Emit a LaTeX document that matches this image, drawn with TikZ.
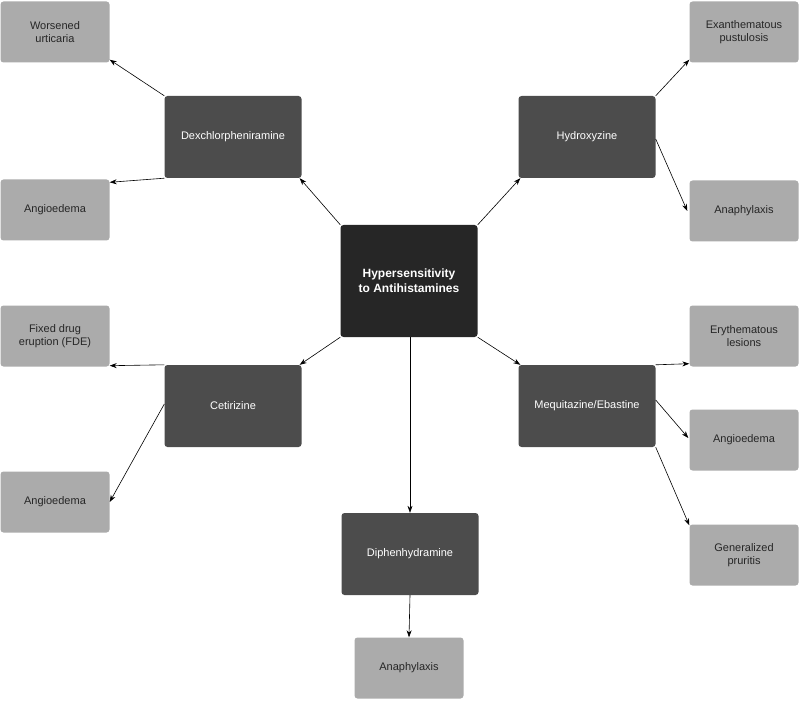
\documentclass[tikz,border=0pt]{standalone}
\usepackage{fontspec}
\setmainfont{Liberation Sans}
\usetikzlibrary{arrows.meta,calc}
\begin{document}
\begin{tikzpicture}[x=1pt,y=-1pt,
  box/.style={rounded corners=3pt,draw=none,align=center,inner sep=0pt,font=\fontsize{11}{13}\selectfont},
  mid/.style={box,fill=black!70,text=white,minimum width=137pt,minimum height=82pt},
  leaf/.style={box,fill=black!33,text=black!85,minimum width=109pt,minimum height=61pt},
  arr/.style={-{Stealth[length=7pt,width=5pt]},line width=0.6pt,black}]
\useasboundingbox (0,0) rectangle (800,703);
\node[box,fill=black!85,text=white,minimum width=137pt,minimum height=112pt,font=\bfseries\fontsize{12}{15}\selectfont] (c) at (409,281) {Hypersensitivity\\to Antihistamines};
\node[mid] (dex) at (233,137) {Dexchlorpheniramine};
\node[mid] (hyd) at (587,137) {Hydroxyzine};
\node[mid] (cet) at (233,406) {Cetirizine};
\node[mid] (meq) at (587,406) {Mequitazine/Ebastine};
\node[mid] (dip) at (410,554) {Diphenhydramine};
\node[leaf] (wu) at (55,32) {Worsened\\urticaria};
\node[leaf] (a1) at (55,210) {Angioedema};
\node[leaf] (fde) at (55,336) {Fixed drug\\eruption (FDE)};
\node[leaf] (a2) at (55,502) {Angioedema};
\node[leaf] (ex) at (744,32) {Exanthematous\\pustulosis};
\node[leaf] (an1) at (744,211) {Anaphylaxis};
\node[leaf] (er) at (744,336) {Erythematous\\lesions};
\node[leaf] (a3) at (744,440) {Angioedema};
\node[leaf] (gp) at (744,555) {Generalized\\pruritis};
\node[leaf] (an2) at (409,668) {Anaphylaxis};
% center to drugs
\draw[arr] (c.north west) -- ($(dex.south east)+(-2,0)$);
\draw[arr] (c.north east) -- ($(hyd.south west)+(2,0)$);
\draw[arr] (c.south west) -- ($(cet.north east)+(-2,0)$);
\draw[arr] (c.south east) -- ($(meq.north west)+(2,0)$);
\draw[arr] ($(c.south)+(1,0)$) -- (dip.north);
\draw[arr] (dip.south) -- (an2.north);
% left
\draw[arr] (dex.north west) -- ($(wu.south east)+(0,-3)$);
\draw[arr] (dex.south west) -- ($(a1.north east)+(0,3)$);
\draw[arr] (cet.north west) -- ($(fde.south east)+(0,-1)$);
\draw[arr] ($(cet.west)+(0,-2)$) -- (a2.east);
% right
\draw[arr] (hyd.north east) -- ($(ex.south west)+(0,-3)$);
\draw[arr] ($(hyd.east)+(0,2)$) -- ($(an1.west)+(-2,0)$);
\draw[arr] (meq.north east) -- ($(er.south west)+(0,-3)$);
\draw[arr] ($(meq.east)+(0,-6)$) -- ($(a3.west)+(-1,-2)$);
\draw[arr] (meq.south east) -- ($(gp.north west)+(0,1)$);
\end{tikzpicture}
\end{document}
